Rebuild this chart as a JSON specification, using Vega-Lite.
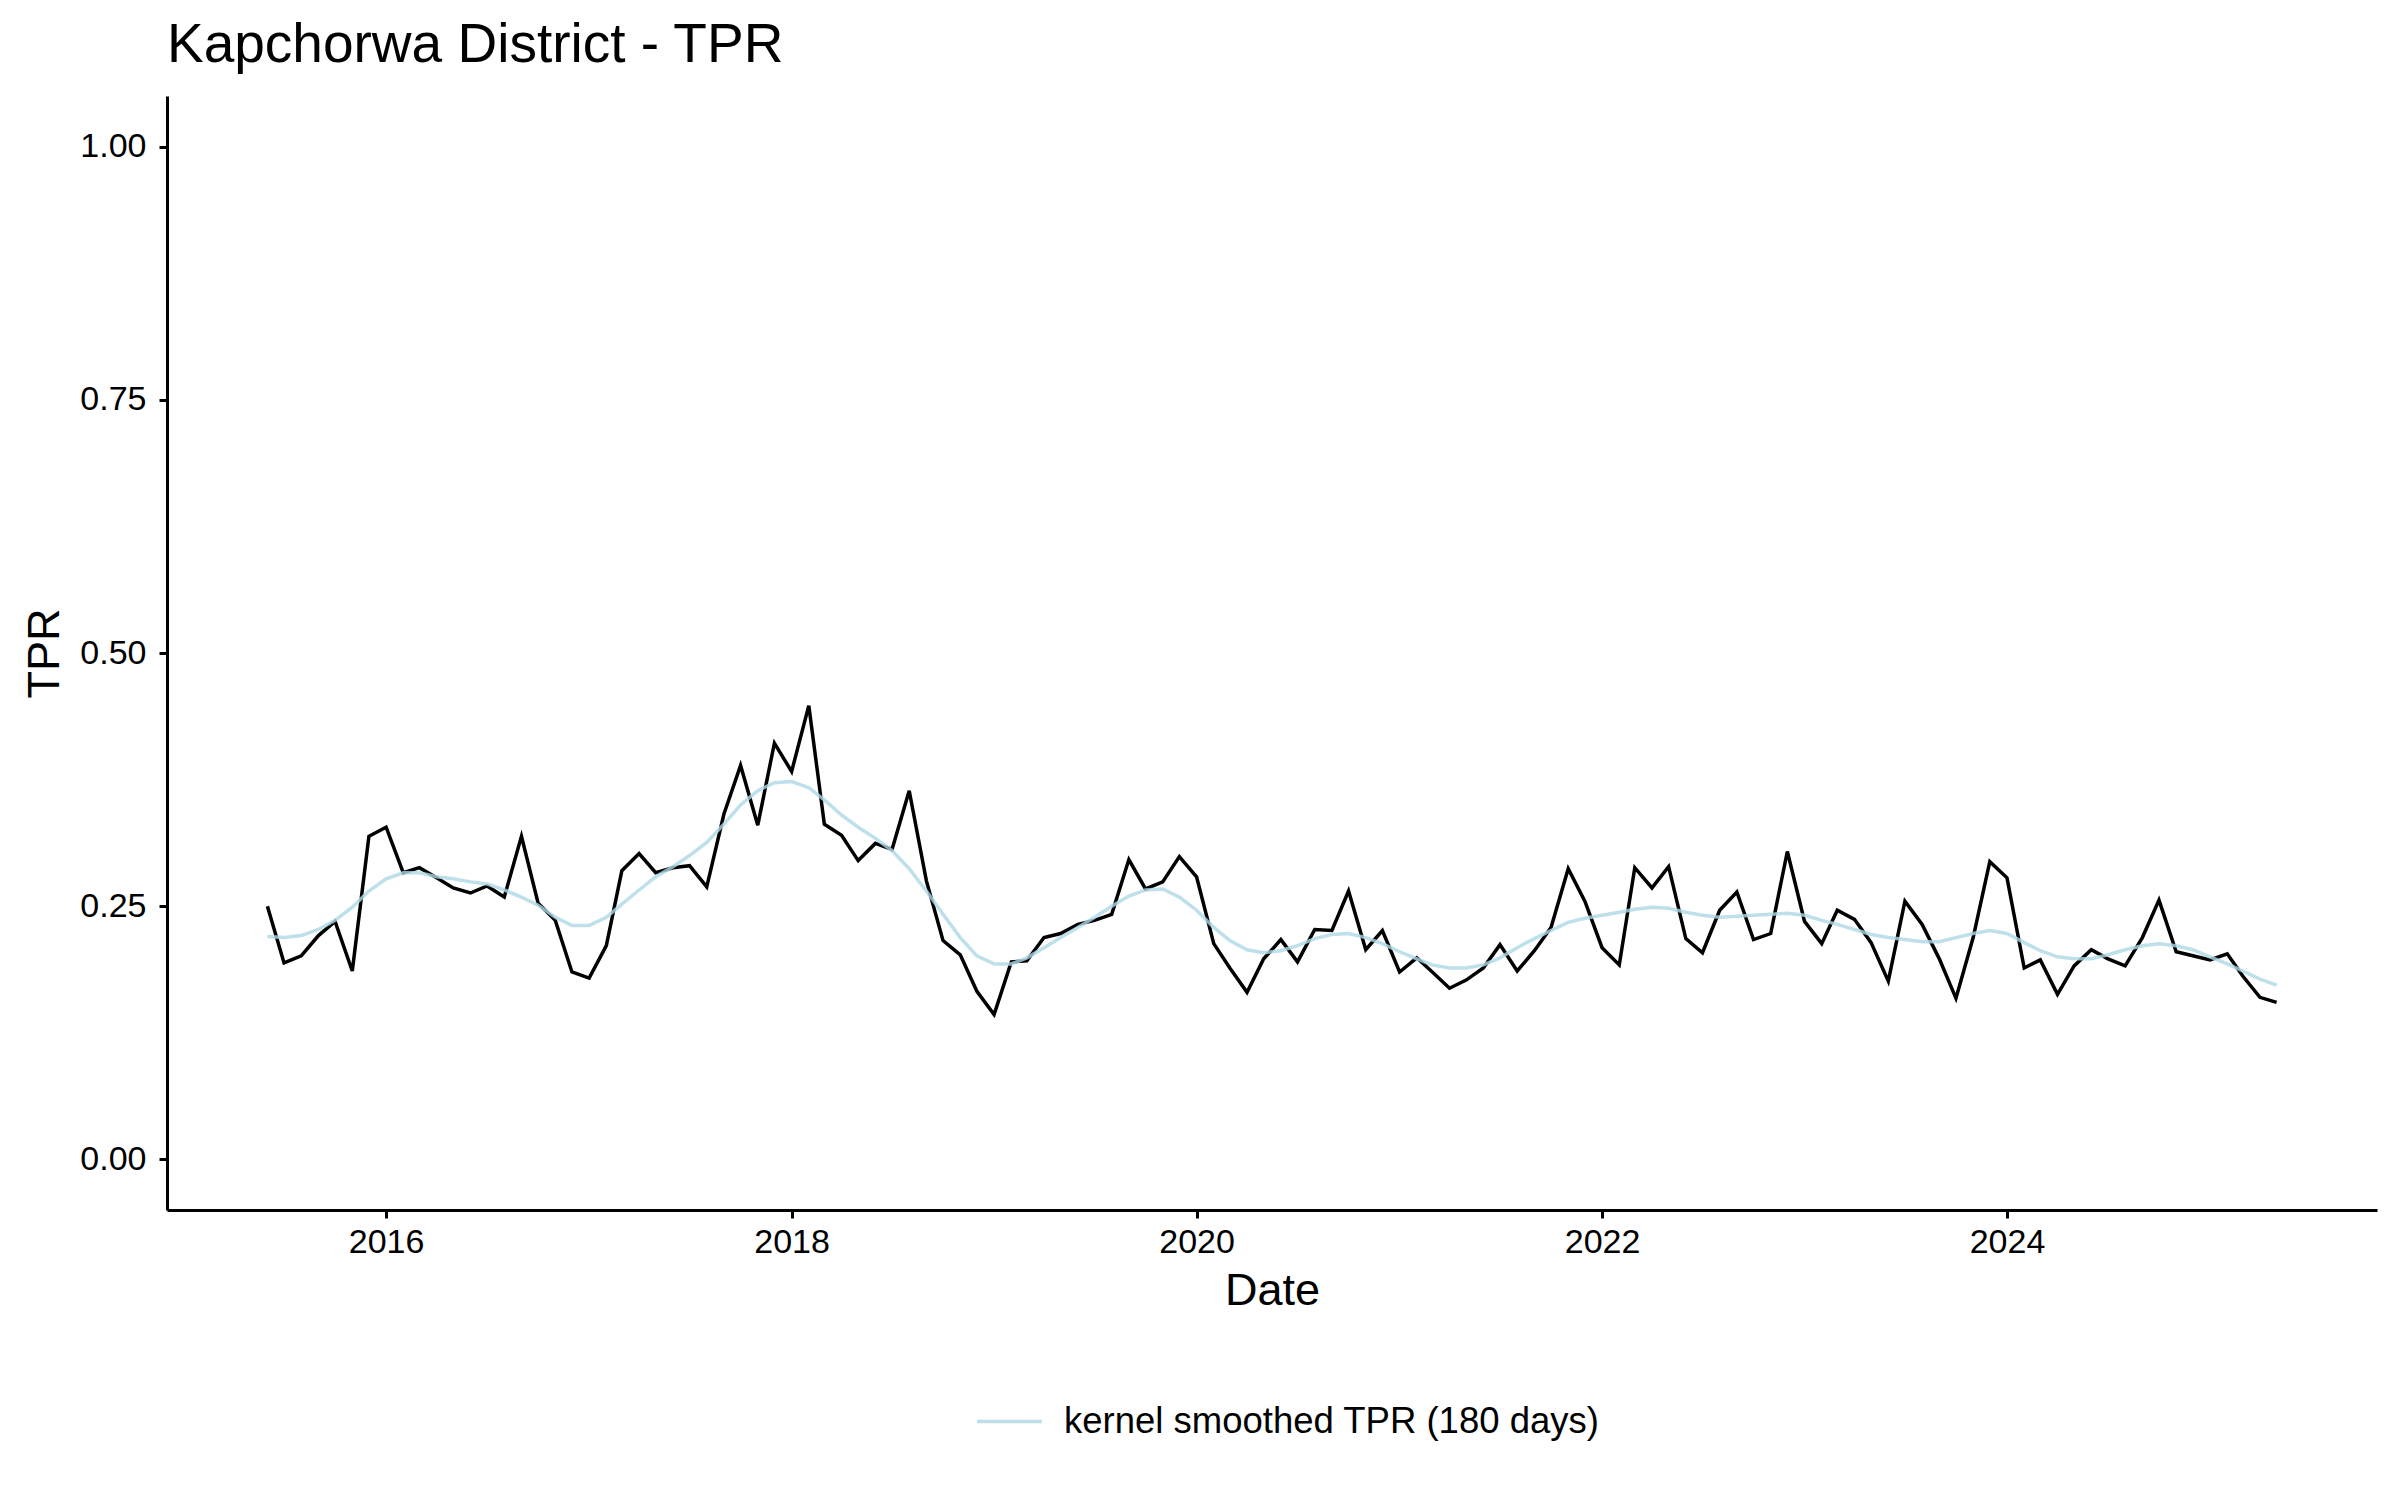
{
  "$schema": "https://vega.github.io/schema/vega-lite/v6.json",
  "width": 2210,
  "height": 1114,
  "autosize": {"type": "none"},
  "padding": {"left": 167, "top": 96, "right": 23, "bottom": 290},
  "background": "white",
  "title": {
    "text": "Kapchorwa District - TPR",
    "anchor": "start",
    "frame": "group",
    "font": "Liberation Sans",
    "fontSize": 55,
    "fontWeight": "normal",
    "color": "black",
    "offset": 22
  },
  "config": {
    "view": {"stroke": null},
    "font": "Liberation Sans",
    "axis": {
      "grid": false,
      "domainColor": "black",
      "domainWidth": 3,
      "tickColor": "black",
      "tickWidth": 3,
      "tickSize": 8,
      "labelFont": "Liberation Sans",
      "labelFontSize": 34,
      "labelColor": "black",
      "titleFont": "Liberation Sans",
      "titleFontSize": 45,
      "titleFontWeight": "normal",
      "titleColor": "black"
    }
  },
  "data": {
    "values": [
      {"date": "2015-06-01", "TPR": 0.250, "smoothed": 0.220},
      {"date": "2015-07-01", "TPR": 0.194, "smoothed": 0.219},
      {"date": "2015-08-01", "TPR": 0.201, "smoothed": 0.221},
      {"date": "2015-09-01", "TPR": 0.221, "smoothed": 0.227},
      {"date": "2015-10-01", "TPR": 0.235, "smoothed": 0.236},
      {"date": "2015-11-01", "TPR": 0.186, "smoothed": 0.249},
      {"date": "2015-12-01", "TPR": 0.319, "smoothed": 0.265},
      {"date": "2016-01-01", "TPR": 0.328, "smoothed": 0.277},
      {"date": "2016-02-01", "TPR": 0.283, "smoothed": 0.283},
      {"date": "2016-03-01", "TPR": 0.288, "smoothed": 0.283},
      {"date": "2016-04-01", "TPR": 0.278, "smoothed": 0.279},
      {"date": "2016-05-01", "TPR": 0.268, "smoothed": 0.277},
      {"date": "2016-06-01", "TPR": 0.263, "smoothed": 0.274},
      {"date": "2016-07-01", "TPR": 0.270, "smoothed": 0.272},
      {"date": "2016-08-01", "TPR": 0.259, "smoothed": 0.266},
      {"date": "2016-09-01", "TPR": 0.319, "smoothed": 0.259},
      {"date": "2016-10-01", "TPR": 0.253, "smoothed": 0.251},
      {"date": "2016-11-01", "TPR": 0.236, "smoothed": 0.239},
      {"date": "2016-12-01", "TPR": 0.185, "smoothed": 0.231},
      {"date": "2017-01-01", "TPR": 0.179, "smoothed": 0.231},
      {"date": "2017-02-01", "TPR": 0.211, "smoothed": 0.239},
      {"date": "2017-03-01", "TPR": 0.285, "smoothed": 0.252},
      {"date": "2017-04-01", "TPR": 0.302, "smoothed": 0.266},
      {"date": "2017-05-01", "TPR": 0.283, "smoothed": 0.279},
      {"date": "2017-06-01", "TPR": 0.288, "smoothed": 0.289},
      {"date": "2017-07-01", "TPR": 0.290, "smoothed": 0.300},
      {"date": "2017-08-01", "TPR": 0.269, "smoothed": 0.313},
      {"date": "2017-09-01", "TPR": 0.341, "smoothed": 0.331},
      {"date": "2017-10-01", "TPR": 0.389, "smoothed": 0.350},
      {"date": "2017-11-01", "TPR": 0.330, "smoothed": 0.364},
      {"date": "2017-12-01", "TPR": 0.411, "smoothed": 0.372},
      {"date": "2018-01-01", "TPR": 0.383, "smoothed": 0.373},
      {"date": "2018-02-01", "TPR": 0.448, "smoothed": 0.367},
      {"date": "2018-03-01", "TPR": 0.331, "smoothed": 0.355},
      {"date": "2018-04-01", "TPR": 0.320, "smoothed": 0.340},
      {"date": "2018-05-01", "TPR": 0.295, "smoothed": 0.328},
      {"date": "2018-06-01", "TPR": 0.312, "smoothed": 0.317},
      {"date": "2018-07-01", "TPR": 0.306, "smoothed": 0.305},
      {"date": "2018-08-01", "TPR": 0.364, "smoothed": 0.287},
      {"date": "2018-09-01", "TPR": 0.275, "smoothed": 0.265},
      {"date": "2018-10-01", "TPR": 0.216, "smoothed": 0.242},
      {"date": "2018-11-01", "TPR": 0.202, "smoothed": 0.219},
      {"date": "2018-12-01", "TPR": 0.166, "smoothed": 0.201},
      {"date": "2019-01-01", "TPR": 0.143, "smoothed": 0.193},
      {"date": "2019-02-01", "TPR": 0.195, "smoothed": 0.193},
      {"date": "2019-03-01", "TPR": 0.196, "smoothed": 0.199},
      {"date": "2019-04-01", "TPR": 0.219, "smoothed": 0.209},
      {"date": "2019-05-01", "TPR": 0.223, "smoothed": 0.219},
      {"date": "2019-06-01", "TPR": 0.232, "smoothed": 0.229},
      {"date": "2019-07-01", "TPR": 0.236, "smoothed": 0.239},
      {"date": "2019-08-01", "TPR": 0.242, "smoothed": 0.250},
      {"date": "2019-09-01", "TPR": 0.296, "smoothed": 0.260},
      {"date": "2019-10-01", "TPR": 0.267, "smoothed": 0.266},
      {"date": "2019-11-01", "TPR": 0.274, "smoothed": 0.267},
      {"date": "2019-12-01", "TPR": 0.299, "smoothed": 0.259},
      {"date": "2020-01-01", "TPR": 0.279, "smoothed": 0.246},
      {"date": "2020-02-01", "TPR": 0.213, "smoothed": 0.229},
      {"date": "2020-03-01", "TPR": 0.189, "smoothed": 0.216},
      {"date": "2020-04-01", "TPR": 0.165, "smoothed": 0.207},
      {"date": "2020-05-01", "TPR": 0.198, "smoothed": 0.204},
      {"date": "2020-06-01", "TPR": 0.217, "smoothed": 0.206},
      {"date": "2020-07-01", "TPR": 0.195, "smoothed": 0.211},
      {"date": "2020-08-01", "TPR": 0.227, "smoothed": 0.218},
      {"date": "2020-09-01", "TPR": 0.226, "smoothed": 0.222},
      {"date": "2020-10-01", "TPR": 0.265, "smoothed": 0.223},
      {"date": "2020-11-01", "TPR": 0.207, "smoothed": 0.219},
      {"date": "2020-12-01", "TPR": 0.226, "smoothed": 0.213},
      {"date": "2021-01-01", "TPR": 0.185, "smoothed": 0.205},
      {"date": "2021-02-01", "TPR": 0.199, "smoothed": 0.198},
      {"date": "2021-03-01", "TPR": 0.185, "smoothed": 0.192},
      {"date": "2021-04-01", "TPR": 0.169, "smoothed": 0.189},
      {"date": "2021-05-01", "TPR": 0.177, "smoothed": 0.189},
      {"date": "2021-06-01", "TPR": 0.189, "smoothed": 0.192},
      {"date": "2021-07-01", "TPR": 0.212, "smoothed": 0.199},
      {"date": "2021-08-01", "TPR": 0.186, "smoothed": 0.209},
      {"date": "2021-09-01", "TPR": 0.206, "smoothed": 0.218},
      {"date": "2021-10-01", "TPR": 0.229, "smoothed": 0.226},
      {"date": "2021-11-01", "TPR": 0.287, "smoothed": 0.234},
      {"date": "2021-12-01", "TPR": 0.255, "smoothed": 0.238},
      {"date": "2022-01-01", "TPR": 0.209, "smoothed": 0.241},
      {"date": "2022-02-01", "TPR": 0.192, "smoothed": 0.244},
      {"date": "2022-03-01", "TPR": 0.288, "smoothed": 0.247},
      {"date": "2022-04-01", "TPR": 0.268, "smoothed": 0.249},
      {"date": "2022-05-01", "TPR": 0.289, "smoothed": 0.248},
      {"date": "2022-06-01", "TPR": 0.218, "smoothed": 0.244},
      {"date": "2022-07-01", "TPR": 0.204, "smoothed": 0.241},
      {"date": "2022-08-01", "TPR": 0.246, "smoothed": 0.239},
      {"date": "2022-09-01", "TPR": 0.264, "smoothed": 0.240},
      {"date": "2022-10-01", "TPR": 0.217, "smoothed": 0.241},
      {"date": "2022-11-01", "TPR": 0.223, "smoothed": 0.242},
      {"date": "2022-12-01", "TPR": 0.304, "smoothed": 0.243},
      {"date": "2023-01-01", "TPR": 0.235, "smoothed": 0.241},
      {"date": "2023-02-01", "TPR": 0.213, "smoothed": 0.236},
      {"date": "2023-03-01", "TPR": 0.246, "smoothed": 0.232},
      {"date": "2023-04-01", "TPR": 0.237, "smoothed": 0.227},
      {"date": "2023-05-01", "TPR": 0.214, "smoothed": 0.222},
      {"date": "2023-06-01", "TPR": 0.176, "smoothed": 0.219},
      {"date": "2023-07-01", "TPR": 0.255, "smoothed": 0.217},
      {"date": "2023-08-01", "TPR": 0.232, "smoothed": 0.215},
      {"date": "2023-09-01", "TPR": 0.198, "smoothed": 0.215},
      {"date": "2023-10-01", "TPR": 0.159, "smoothed": 0.219},
      {"date": "2023-11-01", "TPR": 0.219, "smoothed": 0.223},
      {"date": "2023-12-01", "TPR": 0.294, "smoothed": 0.226},
      {"date": "2024-01-01", "TPR": 0.278, "smoothed": 0.223},
      {"date": "2024-02-01", "TPR": 0.189, "smoothed": 0.214},
      {"date": "2024-03-01", "TPR": 0.197, "smoothed": 0.206},
      {"date": "2024-04-01", "TPR": 0.163, "smoothed": 0.200},
      {"date": "2024-05-01", "TPR": 0.191, "smoothed": 0.198},
      {"date": "2024-06-01", "TPR": 0.207, "smoothed": 0.198},
      {"date": "2024-07-01", "TPR": 0.198, "smoothed": 0.202},
      {"date": "2024-08-01", "TPR": 0.191, "smoothed": 0.207},
      {"date": "2024-09-01", "TPR": 0.219, "smoothed": 0.211},
      {"date": "2024-10-01", "TPR": 0.256, "smoothed": 0.213},
      {"date": "2024-11-01", "TPR": 0.205, "smoothed": 0.211},
      {"date": "2024-12-01", "TPR": 0.201, "smoothed": 0.207},
      {"date": "2025-01-01", "TPR": 0.197, "smoothed": 0.200},
      {"date": "2025-02-01", "TPR": 0.203, "smoothed": 0.193},
      {"date": "2025-03-01", "TPR": 0.181, "smoothed": 0.186},
      {"date": "2025-04-01", "TPR": 0.160, "smoothed": 0.178},
      {"date": "2025-05-01", "TPR": 0.155, "smoothed": 0.172}
    ]
  },
  "encoding": {
    "x": {
      "field": "date",
      "type": "temporal",
      "title": "Date",
      "scale": {"domain": [{"year": 2014, "month": 12, "date": 2}, {"year": 2025, "month": 10, "date": 29}], "nice": false},
      "axis": {
        "values": [{"year": 2016, "month": 1, "date": 1}, {"year": 2018, "month": 1, "date": 1}, {"year": 2020, "month": 1, "date": 1}, {"year": 2022, "month": 1, "date": 1}, {"year": 2024, "month": 1, "date": 1}],
        "format": "%Y",
        "labelPadding": 7,
        "titlePadding": 9
      }
    }
  },
  "layer": [
    {
      "mark": {"type": "line", "color": "black", "strokeWidth": 3.5},
      "encoding": {
        "y": {
          "field": "TPR",
          "type": "quantitative",
          "title": "TPR",
          "scale": {"domain": [-0.05, 1.05], "nice": false, "zero": false},
          "axis": {"values": [0, 0.25, 0.5, 0.75, 1], "format": ".2f", "labelPadding": 13, "titlePadding": 12}
        }
      }
    },
    {
      "mark": {"type": "line", "strokeWidth": 3.5, "opacity": 0.8},
      "encoding": {
        "y": {"field": "smoothed", "type": "quantitative"},
        "color": {
          "datum": "kernel smoothed TPR (180 days)",
          "scale": {"domain": ["kernel smoothed TPR (180 days)"], "range": ["lightblue"]},
          "legend": {
            "title": null,
            "orient": "none",
            "legendX": 808,
            "legendY": 1291,
            "symbolType": "stroke",
            "symbolSize": 4200,
            "symbolStrokeWidth": 3.5,
            "symbolOpacity": 0.8,
            "labelFont": "Liberation Sans",
            "labelFontSize": 36.5,
            "labelColor": "black",
            "labelOffset": 20,
            "labelLimit": 0
          }
        }
      }
    }
  ]
}
